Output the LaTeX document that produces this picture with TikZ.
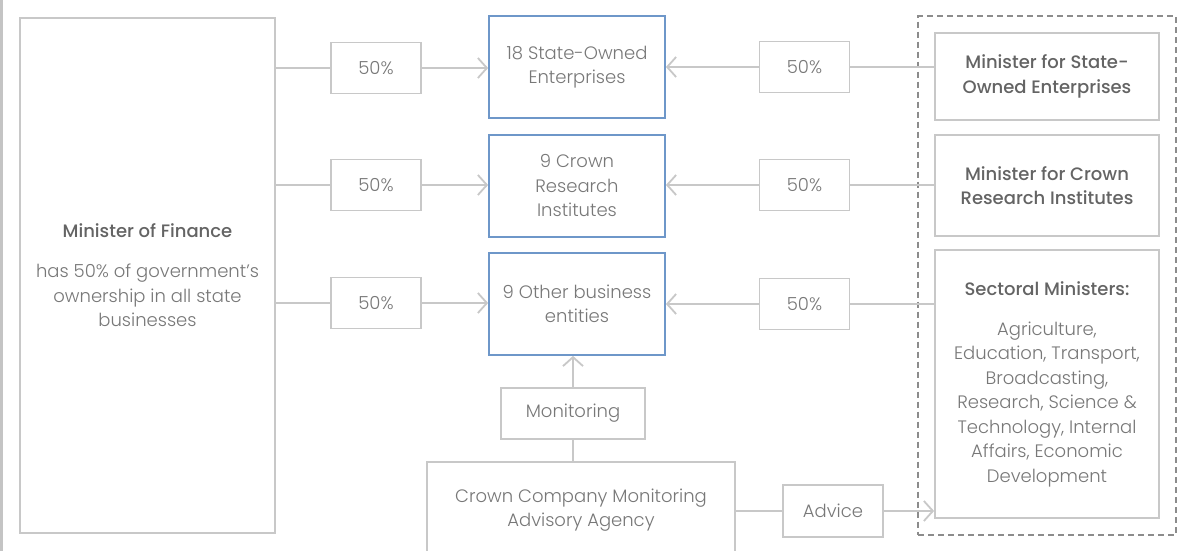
\documentclass[tikz,border=0pt]{standalone}
\usepackage{fontspec}
\setmainfont{Poppins}[UprightFont={* Light}, BoldFont={* Medium}]
\usetikzlibrary{arrows.meta,fit}

\definecolor{boxline}{RGB}{200,200,200}
\definecolor{bluebox}{RGB}{110,151,201}
\definecolor{dashline}{RGB}{140,140,140}
\definecolor{txt}{RGB}{120,120,120}
\definecolor{txtbold}{RGB}{100,100,100}
\definecolor{edgebar}{RGB}{196,196,196}

\tikzset{
  base/.style={draw=boxline, line width=1.8pt, text=txt, align=center,
    inner sep=0pt, font=\fontsize{18}{24.5}\selectfont},
  pct/.style={base, minimum width=90pt, minimum height=51pt},
  entity/.style={base, draw=bluebox, minimum width=176pt, minimum height=102pt},
  minister/.style={base, minimum width=224pt, text=txtbold},
  link/.style={draw=boxline, line width=1.8pt},
  arr/.style={link, -{Straight Barb[length=9pt,width=20pt,line width=1.8pt]}},
  group/.style={draw=dashline, line width=1.8pt, dash pattern=on 6pt off 4pt, inner sep=16pt}
}

\begin{document}
\begin{tikzpicture}[x=1pt, y=-1pt]
  \useasboundingbox (0,0) rectangle (1181,551);
  \clip (0,0) rectangle (1181,551);
  \fill[white] (0,0) rectangle (1181,551);
  \fill[edgebar] (0,0) rectangle (3,551);

  % Minister of Finance
  \node[base, minimum width=255pt, minimum height=515pt] (fin) at (147.5,275.5)
    {{\bfseries\color{txtbold}Minister of Finance}\\[15.5pt]
     has 50\% of government’s\\ ownership in all state\\ businesses};

  % left shares
  \node[pct] (p1) at (376,68)  {50\%};
  \node[pct] (p2) at (376,185) {50\%};
  \node[pct] (p3) at (376,303) {50\%};

  % state businesses
  \node[entity] (b1) at (577,67)  {18 State-Owned\\ Enterprises};
  \node[entity] (b2) at (577,186) {9 Crown\\ Research\\ Institutes};
  \node[entity] (b3) at (577,304) {9 Other business\\ entities};

  % right shares
  \node[pct] (q1) at (804.5,67)  {50\%};
  \node[pct] (q2) at (804.5,185) {50\%};
  \node[pct] (q3) at (804.5,304) {50\%};

  % portfolio ministers
  \node[minister, minimum height=87pt] (m1) at (1047,76.5)
    {\bfseries Minister for State-\\ \bfseries Owned Enterprises};
  \node[minister, minimum height=101pt] (m2) at (1047,185.5)
    {\bfseries Minister for Crown\\ \bfseries Research Institutes};
  \node[minister, minimum height=268pt, text=txt] (m3) at (1047,384)
    {{\bfseries\color{txtbold}Sectoral Ministers:}\\[15.5pt]
     Agriculture,\\ Education, Transport,\\ Broadcasting,\\ Research, Science \&\\
     Technology, Internal\\ Affairs, Economic\\ Development};
  \node[group, fit=(m1)(m3)] (grp) {};

  % monitoring agency
  \node[base, minimum width=144pt, minimum height=51pt] (mon) at (573,413.5) {Monitoring};
  \node[base, minimum width=308pt, minimum height=96pt] (cc) at (581,510)
    {Crown Company Monitoring\\ Advisory Agency};
  \node[base, minimum width=100pt, minimum height=52pt] (adv) at (833,511) {Advice};

  % ownership connectors for each row
  \foreach \r in {1,2,3} {
    \draw[link] (fin.east |- p\r.west) -- (p\r.west);
    \draw[arr] (p\r.east) -- (b\r.west |- p\r.east);
    \draw[arr] (q\r.west) -- (b\r.east |- q\r.west);
    \draw[link] (q\r.east) -- (m\r.west |- q\r.east);
  }

  % monitoring and advice connectors
  \draw[arr] (mon.north) -- (mon.north |- b3.south);
  \draw[link] (mon.south) -- (mon.south |- cc.north);
  \draw[link] (cc.east |- adv.west) -- (adv.west);
  \draw[arr] (adv.east) -- (m3.west |- adv.east);
\end{tikzpicture}
\end{document}
